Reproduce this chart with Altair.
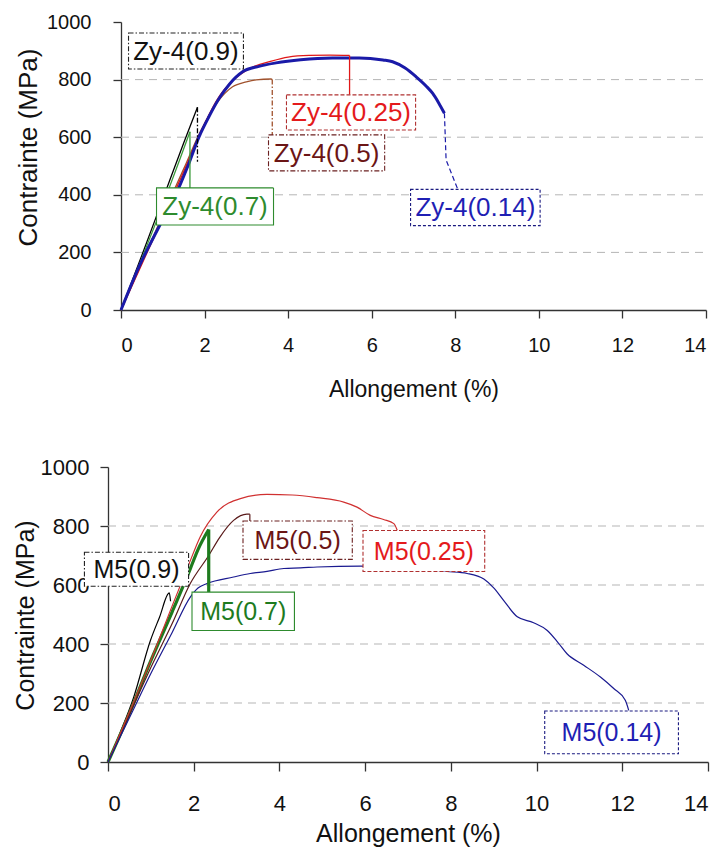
import altair as alt
import pandas as pd

FONT = "Liberation Sans"

# ---------------- top panel (Zy-4) ----------------
zy_series = ["Zy-4(0.9)", "Zy-4(0.7)", "Zy-4(0.5)", "Zy-4(0.25)", "Zy-4(0.14)"]
zy09_x = [0, 0.5, 1.0, 1.5, 1.83]
zy09_y = [0, 190, 385, 580, 704]
zy07_x = [0, 0.5, 1.0, 1.4, 1.65]
zy07_y = [0, 180, 365, 520, 619]
zy05_x = [0, 0.5, 1.0, 1.5, 1.9, 2.3, 2.67, 3.0, 3.23, 3.59, 3.62]
zy05_y = [0, 165, 330, 490, 620, 720, 775, 792, 799, 802, 800]
zy025_x = [0, 0.5, 1.0, 1.5, 1.9, 2.3, 2.7, 3.1, 3.6, 4.0, 4.5, 5.0, 5.47]
zy025_y = [0, 160, 320, 480, 615, 730, 800, 840, 864, 878, 884, 885, 884]
zy014_x = [0, 0.43, 0.91, 1.31, 1.6, 1.87, 2.1, 2.35, 2.6, 2.91, 3.3, 3.71, 4.3,
           5.06, 5.7, 6.27, 6.5, 6.8, 7.06, 7.3, 7.46, 7.6, 7.74]
zy014_y = [0, 150, 289, 400, 500, 602, 670, 735, 785, 827, 846, 858, 869,
           875, 875, 868, 862, 840, 810, 778, 752, 720, 683]

# fracture drops / leader lines to the labels
zy_lead = {
    "Zy-4(0.9)": ([1.83, 1.83], [704, 515]),
    "Zy-4(0.7)": ([1.65, 1.65], [619, 424]),
    "Zy-4(0.5)": ([3.62, 3.62], [800, 608]),
    "Zy-4(0.25)": ([5.47, 5.47], [884, 747]),
    "Zy-4(0.14)": ([7.74, 7.78, 8.06], [683, 521, 419]),
}
# label boxes: x1, x2, y1, y2 (data units)
zy_box_x1 = [0.18, 0.85, 3.53, 3.96, 6.93]
zy_box_x2 = [2.93, 3.65, 6.31, 7.05, 10.03]
zy_box_y1 = [837, 295, 483, 625, 293]
zy_box_y2 = [962, 424, 608, 747, 419]

zy_line_colors = ["#000000", "#3a9a3a", "#a0522d", "#e01818", "#1a1aa8"]
zy_line_widths = [1.3, 1.3, 1.3, 1.4, 3.0]
zy_lead_widths = [1.3, 1.3, 1.3, 1.3, 1.2]
zy_text_colors = ["#111111", "#2e8b2e", "#6b1515", "#e41a1c", "#1f1fb4"]
zy_border_colors = ["#222222", "#2e8b2e", "#6b2020", "#b03030", "#1a1a80"]
zy_box_dash = [[5, 2, 1.5, 2], [1, 0], [5, 2, 1.5, 2], [4, 2], [3, 2]]
zy_lead_dash = [[5, 2, 1.5, 2], [1, 0], [5, 2, 1.5, 2], [1, 0], [5, 3]]

# ---------------- bottom panel (M5) ----------------
m5_series = ["M5(0.9)", "M5(0.7)", "M5(0.5)", "M5(0.25)", "M5(0.14)"]
m09_x = [0, 0.3, 0.6, 0.99, 1.2, 1.43, 1.46]
m09_y = [0, 105, 220, 412, 490, 573, 545]
m07_x = [0, 0.5, 0.99, 1.5, 1.92, 2.1, 2.35]
m07_y = [0, 165, 340, 510, 655, 720, 788]
m05_x = [0, 0.5, 1.0, 1.5, 1.92, 2.35, 2.6, 2.93, 3.24, 3.31]
m05_y = [0, 160, 320, 470, 605, 700, 760, 819, 840, 840]
m025_x = [0, 0.5, 1.0, 1.5, 1.9, 2.15, 2.54, 3.09, 3.71, 4.3, 4.88, 5.5, 5.81,
          6.12, 6.43, 6.67, 6.75]
m025_y = [0, 170, 345, 530, 675, 763, 847, 893, 907, 905, 896, 881, 864,
          836, 822, 808, 785]
m014_x = [0, 0.5, 1.0, 1.5, 1.92, 2.1, 2.31, 2.93, 3.32, 3.71, 4.10, 4.49, 4.88,
          5.89, 6.5, 7.3, 7.91, 8.38, 8.77, 9.0, 9.23, 9.55, 9.93, 10.25, 10.5,
          10.71, 11.10, 11.49, 11.80, 12.07, 12.15]
m014_y = [0, 150, 300, 440, 559, 590, 605, 627, 639, 646, 656, 658, 661,
          664, 662, 655, 646, 639, 620, 590, 548, 492, 472, 446, 405,
          367, 328, 288, 249, 209, 175]

m5_lead = {
    "M5(0.7)": ([2.35, 2.35], [788, 576]),
    "M5(0.5)": ([3.31, 3.31], [840, 817]),
}
m5_box_x1 = [-0.55, 1.96, 3.15, 5.95, 10.19]
m5_box_x2 = [1.88, 4.35, 5.70, 8.79, 13.31]
m5_box_y1 = [596, 446, 687, 646, 28]
m5_box_y2 = [711, 576, 817, 785, 173]

m5_line_colors = ["#000000", "#1e7b1e", "#5a1a1a", "#d03030", "#1a1a90"]
m5_line_widths = [1.2, 3.2, 1.2, 1.2, 1.2]
m5_lead_widths = [1.2, 3.2, 1.2, 1.2, 1.2]
m5_text_colors = ["#111111", "#1e7b1e", "#6b1515", "#e41a1c", "#1f1fb4"]
m5_border_colors = ["#222222", "#2e8b2e", "#6b2020", "#b03030", "#1a1a80"]
m5_box_dash = [[5, 2, 1.5, 2], [1, 0], [5, 2, 1.5, 2], [4, 2], [3, 2]]
m5_lead_dash = [[5, 2, 1.5, 2], [1, 0], [1, 0], [1, 0], [4, 3]]

x_ticks = [0, 2, 4, 6, 8, 10, 12, 14]
y_ticks = [0, 200, 400, 600, 800, 1000]
grid_vals = [200, 400, 600, 800]


def curves_df(names, xs_list, ys_list, widths):
    wmap = dict(zip(names, widths))
    rows = []
    for name, xs, ys in zip(names, xs_list, ys_list):
        for i, (x, y) in enumerate(zip(xs, ys)):
            rows.append({"series": name, "x": x, "y": y, "i": i,
                         "w": wmap[name]})
    return pd.DataFrame(rows)


def panel(names, xs_list, ys_list, lead, bx1, bx2, by1, by2, line_colors,
          line_widths, lead_widths, text_colors, border_colors, box_dash,
          lead_dash, width, height, x_range, ax_x, ax_y, label_size):
    xs = alt.Scale(domain=[0, 14], nice=False, zero=False, range=x_range)
    ys = alt.Scale(domain=[0, 1000], nice=False)
    col = alt.Scale(domain=names, range=line_colors)

    df = curves_df(names, xs_list, ys_list, line_widths)
    lnames = [n for n in names if n in lead]
    lead_df = curves_df(lnames, [lead[n][0] for n in lnames],
                        [lead[n][1] for n in lnames],
                        [lead_widths[names.index(n)] for n in lnames])
    box_df = pd.DataFrame({"label": names, "x1": bx1, "x2": bx2,
                           "y1": by1, "y2": by2})
    box_df["tx"] = (box_df["x1"] + box_df["x2"]) / 2
    box_df["ty"] = (box_df["y1"] + box_df["y2"]) / 2

    grid = alt.Chart(pd.DataFrame({"g": grid_vals})).mark_rule(
        color="#b5b5b5", strokeDash=[8, 6], strokeWidth=1
    ).encode(x=alt.XDatum(0, scale=xs), x2=alt.X2Datum(14),
             y=alt.Y("g:Q", scale=ys))

    curves = alt.Chart(df).mark_line(interpolate="monotone").encode(
        x=alt.X("x:Q", scale=xs, axis=ax_x),
        y=alt.Y("y:Q", scale=ys, axis=ax_y),
        color=alt.Color("series:N", scale=col, legend=None),
        strokeWidth=alt.StrokeWidth("w:Q", scale=None),
        detail="series:N",
        order="i:Q",
    )
    leads = alt.Chart(lead_df).mark_line().encode(
        x=alt.X("x:Q", scale=xs),
        y=alt.Y("y:Q", scale=ys),
        color=alt.Color("series:N", scale=col, legend=None),
        strokeWidth=alt.StrokeWidth("w:Q", scale=None),
        strokeDash=alt.StrokeDash("series:N",
                                  scale=alt.Scale(domain=names, range=lead_dash),
                                  legend=None),
        detail="series:N",
        order="i:Q",
    )
    box_layers = []
    for k, name in enumerate(names):
        box_layers.append(
            alt.Chart(box_df).transform_filter(
                alt.datum.label == name
            ).mark_rect(fill="white", strokeWidth=1.1, stroke=border_colors[k],
                        strokeDash=box_dash[k]).encode(
                x=alt.X("x1:Q", scale=xs), x2="x2:Q",
                y=alt.Y("y1:Q", scale=ys), y2="y2:Q",
            )
        )
    texts = alt.Chart(box_df).mark_text(font=FONT, fontSize=label_size,
                                        baseline="middle", align="center",
                                        dy=1).encode(
        x=alt.X("tx:Q", scale=xs),
        y=alt.Y("ty:Q", scale=ys),
        text="label:N",
        fill=alt.Fill("label:N",
                      scale=alt.Scale(domain=names, range=text_colors),
                      legend=None),
    )
    return alt.layer(grid, curves, leads, *box_layers, texts).resolve_scale(
        color="independent", fill="independent", strokeDash="independent"
    ).properties(width=width, height=height)


def axes(tick_font, y_label_pad, x_label_pad, y_title_x, y_title_y,
         x_title_y, y_title_size, x_title_size, tick_x, tick_y, y_offset):
    common = dict(labelFont=FONT, titleFont=FONT, labelFontSize=tick_font,
                  labelColor="#111111", titleColor="#111111",
                  titleFontWeight="normal", domainColor="#333333",
                  tickColor="#333333", domainWidth=1.3, tickWidth=1.3,
                  grid=False)
    ax_x = alt.Axis(title="Allongement (%)", values=x_ticks, format="d",
                    tickSize=tick_x, labelPadding=x_label_pad,
                    titleFontSize=x_title_size, titleY=x_title_y,
                    titleBaseline="top", **common)
    ax_y = alt.Axis(title="Contrainte (MPa)", values=y_ticks, format="d",
                    tickSize=tick_y, labelPadding=y_label_pad,
                    titleFontSize=y_title_size, titleX=y_title_x,
                    titleY=y_title_y, titleAngle=270, titleAlign="center",
                    titleBaseline="bottom", offset=y_offset, **common)
    return ax_x, ax_y


top_ax_x, top_ax_y = axes(20, 22, 17, -80, 125, 68, 26, 23, 8, 8, -13)
bot_ax_x, bot_ax_y = axes(22, 11, 22, -70, 148, 59, 25, 25, 9, 8, 0)

top = panel(zy_series, [zy09_x, zy07_x, zy05_x, zy025_x, zy014_x],
            [zy09_y, zy07_y, zy05_y, zy025_y, zy014_y], zy_lead,
            zy_box_x1, zy_box_x2, zy_box_y1, zy_box_y2,
            zy_line_colors, zy_line_widths, zy_lead_widths, zy_text_colors,
            zy_border_colors, zy_box_dash, zy_lead_dash, 598, 288, [13, 598],
            top_ax_x, top_ax_y, 26)

bottom = panel(m5_series, [m09_x, m07_x, m05_x, m025_x, m014_x],
               [m09_y, m07_y, m05_y, m025_y, m014_y], m5_lead,
               m5_box_x1, m5_box_x2, m5_box_y1, m5_box_y2,
               m5_line_colors, m5_line_widths, m5_lead_widths, m5_text_colors,
               m5_border_colors, m5_box_dash, m5_lead_dash, 600, 295, [0, 600],
               bot_ax_x, bot_ax_y, 25)

chart = alt.vconcat(top, bottom, spacing=55).properties(
    padding={"left": 13, "top": 12, "right": 5, "bottom": 2},
    background="white",
).configure_view(stroke=None)

chart.save("out.html", embed_options={"renderer": "svg", "actions": False})
